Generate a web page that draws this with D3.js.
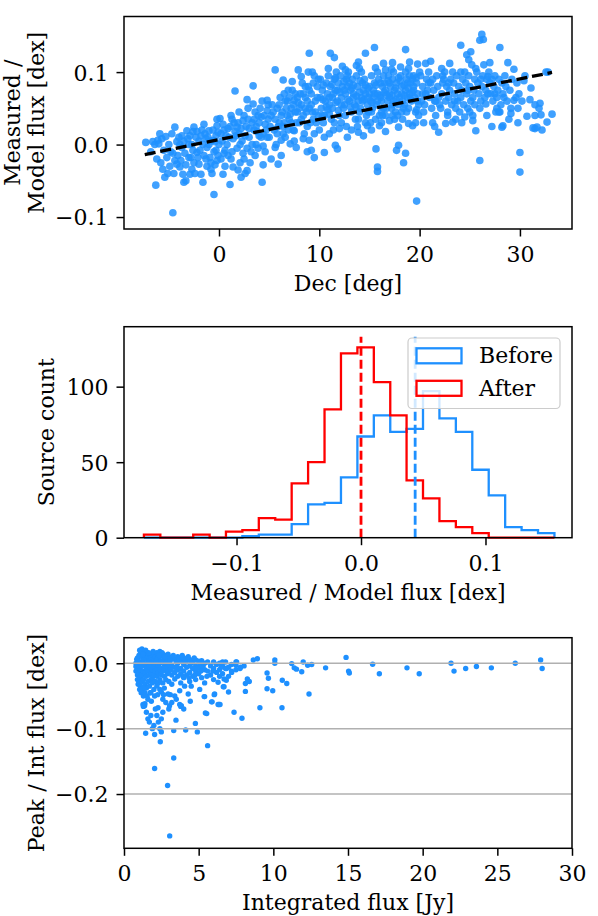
<!DOCTYPE html>
<html><head><meta charset="utf-8">
<script src="https://cdn.jsdelivr.net/npm/d3@7"></script>
<style>
body{margin:0;background:#fff}
svg{display:block}
text{font-family:"DejaVu Serif",serif;fill:#000}
</style>
</head><body>
<svg id="c" width="598" height="916"></svg>
<script>
// ---------------- DATA ----------------
// Panel 1: [Dec (deg), Measured/Model flux (dex)]
const decRatioPoints = [
[-7.3,0.003],[-6.3,-0.056],[-6.1,0.006],[-6.0,0.001],[-5.6,-0.034],[-5.4,-0.045],[-5.3,0.011],[-4.6,-0.094],[-4.4,0.024],[-4.4,-0.022],[-4.2,-0.027],[-4.0,0.010],[-3.9,-0.031],[-3.7,-0.004],[-3.6,-0.041],[-3.5,-0.052],[-3.2,0.019],[-3.0,-0.018],[-2.9,-0.041],[-2.7,-0.034],[-2.5,0.024],[-2.3,0.010],[-2.2,-0.011],[-2.0,-0.027],[-1.8,-0.041],[-1.6,-0.052],[-1.4,0.015],[-1.2,-0.004],[-1.0,0.019],[-0.9,-0.018],[-0.8,-0.034],[-0.6,0.006],[-0.5,-0.069],[-0.3,-0.008],[-0.2,-0.022],[-0.1,0.017],
[-5.0,0.0],[-4.8,-0.01],[-3.5,0.005],[-3.0,0.0],[-2.6,-0.008],[-2.0,0.005],[-1.5,-0.015],[-1.0,0.0],[-0.5,-0.01],[-0.3,0.012],[-1.8,0.012],[-2.8,-0.018],[-3.8,-0.022],[-4.6,-0.012],[-5.8,-0.025],[-6.4,0.0],[-1.2,-0.03],[-2.4,-0.04],[-0.7,-0.04],[-3.3,-0.05],[-4.9,-0.03],[-1.7,0.02],[-0.2,0.026],[-0.8,0.005],[-5.7,0.008],[-6.6,0.004],[-2.1,-0.018],[-1.3,0.008],[-3.4,-0.012],[-0.4,-0.028],[-4.2,0.004],[-2.9,0.012],
[-6.8,-0.01],[-6.2,-0.02],[-5.9,0.015],[-5.5,-0.008],[-5.2,-0.018],[-4.7,0.015],[-4.5,-0.04],[-4.1,-0.015],[-3.7,0.012],[-3.3,-0.028],[-3.1,0.008],[-2.7,0.0],[-2.5,-0.025],[-2.2,0.018],[-1.9,-0.008],[-1.6,0.0],[-1.3,-0.02],[-1.1,0.01],[-0.8,-0.025],[-0.6,0.02],[-0.4,0.004],[-0.1,-0.015],[-0.2,0.035],[-1.5,0.028],[-2.6,0.018],[-3.9,0.0],[-5.1,-0.04],
[0.1,0.036],[0.4,-0.041],[1.1,-0.055],[1.4,-0.031],[1.6,0.074],[1.2,0.040],[1.8,0.024],[2.0,0.045],[2.2,-0.045],[2.8,0.062],[2.8,-0.036],[3.4,0.081],[3.4,0.056],[4.3,-0.052],[4.4,-0.028],[4.8,0.061],[4.8,0.047],[5.2,-0.020],[5.9,-0.027],[5.6,0.103],
[0.5,0.02],[0.8,0.0],[1.0,0.01],[1.3,-0.01],[1.5,0.03],[1.8,-0.005],[2.0,0.015],[2.3,0.005],[2.5,-0.02],[2.7,0.025],[3.0,0.01],[3.2,-0.01],[3.5,0.02],[3.7,0.0],[4.0,0.03],[4.2,0.01],[4.5,0.04],[4.7,0.02],[0.2,-0.02],[0.6,-0.03],[1.1,0.025],[2.1,-0.025],[2.9,0.035],[3.3,0.03],[3.9,-0.005],[4.6,-0.01],[0.3,0.005],[1.7,0.012],[2.4,0.033],[3.6,0.045],[4.1,0.05],[0.9,-0.015],[1.9,-0.035],[2.6,-0.04],[4.4,0.015],[0.0,0.0],[0.7,0.012],[3.1,-0.025],[4.9,0.035],[1.4,0.008],[2.2,0.022],[3.8,0.018],
[0.2,0.015],[0.4,0.028],[0.6,-0.008],[0.9,0.022],[1.2,-0.02],[1.6,0.018],[1.9,0.03],[2.1,0.0],[2.4,-0.012],[2.6,0.012],[2.8,-0.005],[3.0,0.022],[3.3,0.0],[3.5,0.035],[3.7,0.025],[4.0,0.012],[4.2,0.038],[4.4,-0.002],[4.6,0.028],[4.8,0.01],[4.9,0.055],[3.9,0.04],[2.5,0.04],[1.3,0.035],[0.5,-0.012],[3.6,-0.015],[4.3,0.06],[2.9,0.05],
[6.4,0.089],[6.5,0.070],[7.3,0.087],[7.5,0.061],[7.9,0.103],[8.2,0.094],[8.6,0.080],[9.0,0.126],[9.3,0.100],[7.1,0.001],[7.7,-0.004],[8.4,0.008],[9.0,0.006],[9.2,-0.008],[9.5,-0.018],[7.5,0.019],[6.4,0.015],[6.2,0.006],[5.6,-0.004],
[5.2,0.04],[5.5,0.02],[5.8,0.05],[6.0,0.03],[6.3,0.045],[6.6,0.01],[6.8,0.06],[7.0,0.035],[7.2,0.05],[7.4,0.02],[7.6,0.07],[7.8,0.045],[8.0,0.03],[8.2,0.055],[8.4,0.04],[8.6,0.065],[8.8,0.025],[9.0,0.05],[9.2,0.07],[9.4,0.035],[9.6,0.06],[9.8,0.08],[5.3,0.055],[5.7,0.0],[6.1,0.065],[6.5,0.03],[6.9,0.02],[7.3,0.075],[7.7,0.03],[8.1,0.07],[8.5,0.015],[8.9,0.08],[9.3,0.045],[9.7,0.03],[9.9,0.09],[5.0,0.01],[6.7,0.05],[7.9,0.058],[8.7,0.045],[9.5,0.015],[5.9,0.025],[7.1,0.042],[8.3,0.085],[9.1,0.03],[6.2,-0.015],[7.5,0.005],[8.8,-0.01],
[5.1,0.025],[5.4,0.045],[5.6,0.035],[5.8,0.015],[6.0,0.055],[6.2,0.04],[6.4,0.025],[6.6,0.06],[6.8,0.04],[7.0,0.065],[7.2,0.03],[7.4,0.055],[7.6,0.045],[7.8,0.065],[8.0,0.05],[8.2,0.035],[8.4,0.07],[8.6,0.05],[8.8,0.06],[9.0,0.075],[9.2,0.055],[9.4,0.085],[9.6,0.045],[9.8,0.065],[9.9,0.04],[9.5,0.095],[8.9,0.1],[6.9,0.075],
[10.2,0.05],[10.3,0.075],[10.1,0.09],[10.4,0.03],[10.6,0.06],[10.7,0.085],[10.5,0.04],[10.8,0.07],[11.0,0.055],[11.1,0.08],[10.9,0.095],[11.2,0.035],[11.0,0.065],[11.4,0.07],[11.5,0.09],[11.3,0.05],[11.6,0.075],[11.4,0.02],[11.8,0.06],[11.9,0.085],[11.7,0.1],[12.0,0.04],[11.8,0.075],[12.2,0.065],[12.3,0.08],[12.1,0.095],[12.4,0.05],[12.2,0.03],[12.6,0.07],[12.7,0.09],[12.5,0.055],[12.8,0.08],[12.6,0.04],[13.0,0.06],[13.1,0.075],[12.9,0.1],[13.2,0.045],[13.0,0.085],[13.4,0.07],[13.5,0.055],[13.3,0.09],[13.6,0.035],[13.4,0.065],[13.8,0.08],[13.9,0.06],[13.7,0.095],[14.0,0.045],[13.8,0.025],[14.2,0.065],[14.3,0.085],[14.1,0.05],[14.4,0.075],[14.2,0.1],[14.6,0.07],[14.7,0.04],[14.5,0.09],[14.8,0.055],[14.6,0.03],[15.0,0.08],[15.1,0.06],[14.9,0.045],[15.2,0.095],[15.0,0.07],[15.4,0.065],[15.5,0.085],[15.3,0.05],[15.6,0.035],[15.4,0.075],[15.8,0.07],[15.9,0.09],[15.7,0.055],[16.0,0.04],[15.8,0.1],[16.2,0.06],[16.3,0.08],[16.1,0.065],[16.4,0.095],[16.2,0.03],[16.6,0.075],[16.7,0.05],[16.5,0.085],[16.8,0.06],[16.6,0.04],[17.0,0.065],[17.1,0.08],[16.9,0.095],[17.2,0.05],[17.0,0.07],[17.4,0.06],[17.5,0.075],[17.3,0.09],[17.6,0.045],[17.4,0.1],[17.8,0.07],[17.9,0.055],[17.7,0.085],[18.0,0.065],[17.8,0.04],[18.2,0.08],[18.3,0.06],[18.1,0.095],[18.4,0.05],[18.2,0.07],[18.6,0.075],[18.7,0.09],[18.5,0.055],[18.8,0.065],[18.6,0.1],[19.0,0.07],[19.1,0.085],[18.9,0.05],[19.2,0.06],[19.0,0.095],[19.4,0.08],[19.5,0.065],[19.3,0.09],[19.6,0.045],[19.4,0.075],[19.8,0.07],[19.9,0.055],[19.7,0.085],[20.0,0.1],[19.8,0.06],
[10.35,0.062],[10.85,0.048],[11.25,0.083],[11.65,0.058],[12.05,0.072],[12.45,0.087],[12.85,0.062],[13.25,0.078],[13.65,0.052],[14.05,0.088],[14.45,0.062],[14.85,0.078],[15.25,0.058],[15.65,0.082],[16.05,0.068],[16.45,0.072],[16.85,0.088],[17.25,0.068],[17.65,0.062],[18.05,0.088],[18.45,0.082],[18.85,0.078],[19.25,0.072],[19.65,0.092],
[10.1,0.065],[10.4,0.082],[10.7,0.052],[11.0,0.042],[11.3,0.065],[11.6,0.092],[11.9,0.047],[12.2,0.055],[12.5,0.075],[12.8,0.095],[13.1,0.052],[13.4,0.082],[13.7,0.067],[14.0,0.072],[14.3,0.06],[14.6,0.082],[14.9,0.065],[15.2,0.045],[15.5,0.07],[15.8,0.06],[16.1,0.085],[16.4,0.05],[16.7,0.068],[17.0,0.085],[17.3,0.055],[17.6,0.078],[17.9,0.092],[18.2,0.045],[18.5,0.068],[18.8,0.085],[19.1,0.062],[19.4,0.095],[19.7,0.048],[10.3,0.04],[11.5,0.03],[12.7,0.025],[13.9,0.035],[15.1,0.03],[16.3,0.04],[17.5,0.035],[18.7,0.045],[19.9,0.04],[10.9,0.105],[12.3,0.108],[14.0,0.105],[15.6,0.106],[17.2,0.104],[18.9,0.105],
[10.5,0.010],[10.5,-0.011],[11.6,-0.001],[11.8,-0.006],[12.8,0.010],[13.9,0.017],[14.8,0.026],[16.0,0.026],[17.0,0.033],[18.9,0.029],[19.3,0.026],[17.9,0.024],[17.3,0.040],[16.2,0.045],[10.0,0.02],[11.0,0.015],[12.0,0.022],[13.2,0.02],[14.4,0.012],[15.2,0.02],[16.6,0.018],[18.3,0.035],[19.6,0.03],
[19.8,0.111],[19.0,0.114],[13.9,0.114],[13.7,0.109],[12.6,0.103],[16.4,0.112],[17.3,0.113],[16.6,0.103],[18.1,0.107],[11.1,0.126],[11.5,0.120],[14.6,0.126],[15.5,0.134],[18.6,0.131],
[15.65,-0.006],[15.8,-0.031],[15.8,-0.037],[17.9,-0.001],[17.7,-0.008],[18.6,-0.012],[18.4,-0.025],[19.7,-0.078],
[24.1,0.137],[25.1,0.128],[26.2,0.152],[26.35,0.145],[26.0,0.144],[28.0,0.134],[28.8,0.113],[29.4,0.104],[31.1,0.078],[29.8,0.030],[30.0,-0.011],[30.0,-0.038],[26.0,-0.022],[25.6,0.019],[30.7,0.039],[31.3,0.023],[31.7,0.024],[32.2,0.020],[31.9,0.050],[32.1,0.041],[32.7,0.031],[33.2,0.042],[32.6,0.100],[27.2,0.025],[28.2,0.024],[28.3,0.026],[29.4,0.061],[29.1,0.043],[21.9,0.017],[22.6,0.029],[23.3,0.031],[21.3,0.030],[24.5,0.038],[25.3,0.040],[25.3,0.033],[26.6,0.056],[27.7,0.050],[27.5,0.070],[26.8,0.094],[27.0,0.113],[24.7,0.124],[24.9,0.117],[23.0,0.112],[22.2,0.105],[21.1,0.115],[20.6,0.112],[32.0,0.057],[31.5,0.022],[31.5,0.040],
[20.2,0.06],[20.3,0.08],[20.1,0.095],[20.4,0.045],[20.6,0.07],[20.7,0.09],[20.5,0.055],[20.8,0.075],[21.0,0.065],[21.1,0.085],[20.9,0.1],[21.2,0.05],[21.4,0.075],[21.5,0.06],[21.3,0.09],[21.6,0.04],[21.8,0.08],[21.9,0.065],[21.7,0.095],[22.0,0.055],[22.2,0.07],[22.3,0.085],[22.1,0.05],[22.4,0.09],[22.6,0.06],[22.7,0.08],[22.5,0.1],[22.8,0.045],[23.0,0.075],[23.1,0.09],[22.9,0.065],[23.2,0.055],[23.4,0.085],[23.5,0.07],[23.3,0.1],[23.6,0.05],[23.8,0.06],[23.9,0.08],[23.7,0.095],[24.0,0.045],[24.2,0.075],[24.3,0.09],[24.1,0.065],[24.4,0.055],[24.6,0.085],[24.7,0.07],[24.5,0.1],[24.8,0.05],[25.0,0.08],[25.1,0.06],[24.9,0.095],[25.2,0.11],[25.4,0.075],[25.5,0.09],[25.3,0.065],[25.6,0.105],[25.8,0.085],[25.9,0.07],[25.7,0.1],[26.0,0.05],[26.2,0.08],[26.3,0.095],[26.1,0.06],[26.4,0.11],[26.6,0.075],[26.7,0.09],[26.5,0.065],[27.0,0.085],[27.1,0.07],[26.9,0.1],[27.4,0.08],[27.5,0.095],[27.3,0.06],[27.8,0.075],[27.9,0.09],[27.7,0.065],[28.0,0.045],[28.2,0.085],[28.3,0.07],[28.1,0.055],[28.6,0.08],[28.7,0.06],[28.5,0.095],[29.0,0.075],[29.1,0.05],[29.6,0.065],[29.7,0.085],[30.2,0.06],[31.5,0.055],[32.8,0.1],
[20.4,0.03],[21.5,0.025],[22.8,0.04],[23.6,0.035],[24.2,0.03],[25.0,0.045],[26.7,0.04],[27.9,0.045],[28.9,0.035],[29.9,0.07],[30.4,0.088],[31.0,0.062],
[20.3,0.07],[20.9,0.085],[21.6,0.06],[22.3,0.095],[22.9,0.085],[23.5,0.06],[24.1,0.1],[24.8,0.075],[25.5,0.055],[26.1,0.09],[26.8,0.07],[27.2,0.09],[27.6,0.045],[28.4,0.065],[29.2,0.09],[29.8,0.05],[30.5,0.095]
];
const fitSlope = 0.00279, fitIntercept = 0.0069, fitDecRange = [-7.4, 33.2];

// Panel 2: histogram (shared bin edges, dex)
const binEdges = [-0.1744,-0.1612,-0.1480,-0.1348,-0.1216,-0.1085,-0.0953,-0.0821,-0.0689,-0.0557,-0.0425,-0.0293,-0.0161,-0.0029,0.0103,0.0235,0.0366,0.0498,0.0630,0.0762,0.0894,0.1026,0.1158,0.1290,0.1422,0.1554];
const beforeCounts = [0,0,0,0,0,0,1,2,2,9,22,23,40,67,81,70,72,97,79,70,45,28,7,5,3];
const afterCounts  = [2,0,0,2,0,4,5,13,12,36,50,85,122,126,103,81,38,26,11,7,3,0,0,0,0];
const beforeMean = 0.0435, afterMean = 0.0, meanLineTop = 133;
const legendLabels = ["Before","After"];

// Panel 3: [Integrated flux (Jy), Peak/Int flux (dex)]
const fluxPeakPoints = [
[2.43,-0.120],[5.60,-0.126],[3.33,-0.145],[2.05,-0.161],[2.92,-0.187],[3.06,-0.264],
[1.45,-0.107],[2.05,-0.109],[2.5,-0.105],[3.33,-0.103],[4.13,-0.102],[4.91,-0.105],[4.78,-0.092],[3.48,-0.087],[5.54,-0.077],
[1.27,-0.063],[1.38,-0.065],[1.5,-0.075],[2.28,-0.068],[2.6,-0.055],[3.05,-0.065],[3.73,-0.063],[3.84,-0.065],[3.4,-0.05],[4.3,-0.047],[4.44,-0.058],[5.4,-0.051],[6.07,-0.047],[5.9,-0.059],[6.36,-0.063],[6.7,-0.036],[6.85,-0.026],[6.3,-0.029],[5.07,-0.040],[4.5,-0.035],[4.06,-0.035],[3.73,-0.042],[2.95,-0.047],[2.5,-0.044],[2.05,-0.05],[1.83,-0.058],
[1.4,-0.062],[1.6,-0.085],[1.7,-0.09],[1.8,-0.08],[2.0,-0.095],[2.1,-0.07],[2.2,-0.08],[2.3,-0.09],[2.5,-0.085],[2.6,-0.075],[1.9,-0.1],[2.4,-0.1],[3.0,-0.07],[3.2,-0.06],[3.5,-0.055],[3.8,-0.066],[4.0,-0.07],[1.3,-0.066],[2.8,-0.06],[3.1,-0.048],[5.45,-0.076],[5.37,-0.051],
[0.8,0.0],[0.8,-0.005],[0.8,-0.012],[0.9,0.008],[0.9,-0.002],[0.9,-0.018],[0.9,-0.025],[1.0,0.012],[1.0,0.003],[1.0,-0.008],[1.0,-0.015],[1.0,-0.03],[1.1,0.015],[1.1,0.0],[1.1,-0.01],[1.1,-0.022],[1.1,-0.035],[1.2,0.022],[1.2,0.01],[1.2,-0.004],[1.2,-0.018],[1.2,-0.028],[1.2,-0.042],[1.3,0.018],[1.3,0.005],[1.3,-0.012],[1.3,-0.025],[1.3,-0.05],[1.4,0.012],[1.4,-0.002],[1.4,-0.015],[1.4,-0.032],[1.4,-0.045],[1.5,0.016],[1.5,0.006],[1.5,-0.008],[1.5,-0.02],[1.5,-0.038],[1.6,0.01],[1.6,0.0],[1.6,-0.012],[1.6,-0.028],[1.6,-0.055],[1.7,0.014],[1.7,0.004],[1.7,-0.006],[1.7,-0.018],[1.7,-0.035],[1.8,0.008],[1.8,-0.003],[1.8,-0.015],[1.8,-0.025],[1.8,-0.045],[1.9,0.012],[1.9,0.002],[1.9,-0.01],[1.9,-0.022],[1.9,-0.03],[2.0,0.015],[2.0,0.005],[2.0,-0.005],[2.0,-0.018],[2.0,-0.04],[2.1,0.01],[2.1,-0.002],[2.1,-0.012],[2.1,-0.028],[2.2,0.016],[2.2,0.006],[2.2,-0.008],[2.2,-0.02],[2.2,-0.035],[2.3,0.008],[2.3,-0.004],[2.3,-0.015],[2.3,-0.03],[2.4,0.018],[2.4,0.01],[2.4,0.0],[2.4,-0.01],[2.4,-0.025],[2.4,-0.04],[2.5,0.012],[2.5,0.003],[2.5,-0.008],[2.5,-0.018],[2.6,0.014],[2.6,0.002],[2.6,-0.012],[2.6,-0.03],[2.7,0.008],[2.7,-0.004],[2.7,-0.02],[2.7,-0.038],[2.8,0.012],[2.8,0.0],[2.8,-0.01],[2.8,-0.025],[2.9,0.006],[2.9,-0.006],[2.9,-0.016],[3.0,0.01],[3.0,-0.002],[3.0,-0.012],[3.0,-0.028],[3.2,0.008],[3.2,-0.004],[3.2,-0.018],[3.2,-0.032],[3.4,0.006],[3.4,-0.006],[3.4,-0.014],[3.4,-0.024],[3.6,0.01],[3.6,0.0],[3.6,-0.01],[3.6,-0.02],[3.8,0.004],[3.8,-0.008],[3.8,-0.016],[3.8,-0.03],[4.0,0.008],[4.0,-0.002],[4.0,-0.012],[4.0,-0.022],[4.2,0.004],[4.2,-0.006],[4.2,-0.018],[4.4,0.006],[4.4,-0.004],[4.4,-0.014],[4.4,-0.028],[4.6,0.002],[4.6,-0.008],[4.6,-0.02],[4.8,0.005],[4.8,-0.004],[4.8,-0.012],[4.8,-0.025],[5.0,0.003],[5.0,-0.006],[5.0,-0.016],[5.2,0.004],[5.2,-0.008],[5.2,-0.022],[5.4,0.0],[5.4,-0.01],[5.4,-0.03],[5.6,0.002],[5.6,-0.012],[5.8,-0.004],[5.8,-0.018],[6.0,0.002],[6.0,-0.008],[6.0,-0.025],[6.2,-0.002],[6.2,-0.014],[6.4,0.0],[6.4,-0.01],[6.4,-0.02],[6.6,-0.004],[6.6,-0.016],[6.8,0.002],[6.8,-0.008],[7.0,-0.006],[7.0,-0.02],[7.2,-0.002],[7.2,-0.012],[7.5,0.002],[7.5,-0.01],[7.8,-0.006],
[2.55,0.016],[2.75,0.01],[2.95,0.014],[3.1,0.004],[3.3,0.012],[3.5,0.002],[3.7,0.008],[3.9,0.012],[4.1,0.002],[4.3,0.01],[4.5,0.0],[4.7,0.008],[4.9,-0.008],[5.1,0.0],[5.3,-0.004],[3.15,-0.01],[3.55,-0.006],[3.95,-0.02],[4.35,-0.022],[4.75,-0.018],[5.15,-0.012],[5.55,-0.02],[5.95,-0.012],[6.5,-0.006],[2.35,0.012],[1.95,0.018],[1.45,0.02],[1.05,0.02],[0.85,0.006],[1.25,0.014],[1.65,0.016],[2.15,0.003],[1.15,-0.045],[1.35,-0.038],[1.55,-0.05],[1.75,-0.045],[2.25,-0.048],[2.65,-0.048],[1.05,-0.04],[0.95,-0.032],
[6.6,0.002],[7.54,0.002],[8.04,-0.004],[8.66,0.005],[8.93,0.007],[10.1,0.005],[10.1,0.0],[11.23,-0.0005],[11.4,-0.007],[11.55,-0.009],[12.0,0.002],[11.9,-0.013],[12.3,-0.003],[12.57,-0.002],[13.5,-0.007],[14.87,0.009],[15.04,-0.012],[15.09,-0.015],[16.65,-0.0015],[17.1,-0.016],[18.95,-0.007],[19.77,-0.016],[21.9,0.0],[22.1,-0.012],[22.88,-0.008],[23.6,-0.005],[24.6,-0.007],[26.2,0.0],[27.9,0.005],[28.0,-0.008],
[9.58,-0.015],[9.67,-0.023],[9.58,-0.039],[9.96,-0.042],[10.6,-0.026],[10.9,-0.031],[12.39,-0.047],[10.58,-0.068],[9.1,-0.068],[8.26,-0.024],[8.39,-0.028],[8.13,-0.031],[8.13,-0.043],[7.37,-0.075],[7.9,-0.084],[6.65,-0.036],[7.0,-0.044],[6.43,-0.063],[7.5,-0.003],[7.77,-0.008],[7.21,-0.014],[6.87,-0.008],[6.7,-0.024],[6.3,-0.063],[5.86,-0.059],[6.04,-0.048]
];

const topXTicks = [0,10,20,30], topYTicks = [-0.1,0.0,0.1];
const midXTicks = [-0.1,0.0,0.1], midYTicks = [0,50,100];
const botXTicks = [0,5,10,15,20,25,30], botYTicks = [-0.2,-0.1,0.0];

// ---------------- LAYOUT ----------------
const FS = 22;
const L = 124, R = 572;
const P1 = {t:16.5, b:229}, P2 = {t:326.7, b:537.7}, P3 = {t:637.7, b:848.3};
const svg = d3.select('#c');
const BLUE = '#1e90ff', RED = '#ff0000';

function axes(g, x, y, xt, yt, xfmt, yfmt, P) {
  const ax = g.append('g').attr('transform',`translate(0,${P.b})`)
    .call(d3.axisBottom(x).tickValues(xt).tickFormat(xfmt).tickSize(7.5).tickPadding(9.8));
  const ay = g.append('g').attr('transform',`translate(${L},0)`)
    .call(d3.axisLeft(y).tickValues(yt).tickFormat(yfmt).tickSize(7.5).tickPadding(8));
  [ax,ay].forEach(a=>{
    a.select('.domain').remove();
    a.selectAll('line').attr('stroke','#000').attr('stroke-width',1.5);
    a.selectAll('text').attr('font-size',FS).attr('font-family','DejaVu Serif').attr('fill','#000');
  });
  ay.selectAll('text').attr('dy','0.36em');
  g.append('rect').attr('x',L).attr('y',P.t).attr('width',R-L).attr('height',P.b-P.t)
    .attr('fill','none').attr('stroke','#000').attr('stroke-width',1.5);
}
function xlabel(txt, P){
  svg.append('text').attr('x',(L+R)/2).attr('y',P.b+62).attr('text-anchor','middle').attr('font-size',FS).text(txt);
}
function ylabel(lines, P, xs){
  lines.forEach((t,i)=>{
    svg.append('text').attr('transform',`translate(${xs[i]},${(P.t+P.b)/2}) rotate(-90)`)
      .attr('text-anchor','middle').attr('font-size',FS).text(t);
  });
}

// ---------- Panel 1 ----------
{
  const x = d3.scaleLinear().domain([-9.47,35.19]).range([L,R]);
  const y = d3.scaleLinear().domain([-0.1165,0.1767]).range([P1.b,P1.t]);
  const g = svg.append('g');
  svg.append('clipPath').attr('id','c1').append('rect').attr('x',L).attr('y',P1.t).attr('width',R-L).attr('height',P1.b-P1.t);
  const pg = g.append('g').attr('clip-path','url(#c1)');
  pg.selectAll('circle').data(decRatioPoints).join('circle')
    .attr('cx',d=>x(d[0])).attr('cy',d=>y(d[1])).attr('r',3.8)
    .attr('fill',BLUE).attr('fill-opacity',0.85);
  pg.append('path').datum(fitDecRange)
    .attr('d',d3.line().x(d=>x(d)).y(d=>y(fitIntercept+fitSlope*d)))
    .attr('stroke','#000').attr('stroke-width',3.3).attr('stroke-dasharray','11,4.8').attr('fill','none');
  axes(g,x,y,topXTicks,topYTicks,d3.format('d'),d3.format('.1f'),P1);
  xlabel('Dec [deg]',P1);
  ylabel(['Measured /','Model flux [dex]'],P1,[20,44]);
}

// ---------- Panel 2 ----------
{
  const x = d3.scaleLinear().domain([-0.1904,0.1695]).range([L,R]);
  const y = d3.scaleLinear().domain([0,139.7]).range([P2.b,P2.t]);
  const g = svg.append('g');
  function stepPath(counts){
    const p = d3.path();
    p.moveTo(x(binEdges[0]), y(0));
    counts.forEach((c,i)=>{ p.lineTo(x(binEdges[i]), y(c)); p.lineTo(x(binEdges[i+1]), y(c)); });
    p.lineTo(x(binEdges[counts.length]), y(0));
    return p.toString();
  }
  g.append('path').attr('d',stepPath(beforeCounts)).attr('fill','none').attr('stroke',BLUE).attr('stroke-width',2.3);
  g.append('path').attr('d',stepPath(afterCounts)).attr('fill','none').attr('stroke',RED).attr('stroke-width',2.3);
  g.append('line').attr('x1',x(afterMean)).attr('x2',x(afterMean)).attr('y1',y(0)).attr('y2',y(meanLineTop))
    .attr('stroke',RED).attr('stroke-width',2.8).attr('stroke-dasharray','9,4');
  g.append('line').attr('x1',x(beforeMean)).attr('x2',x(beforeMean)).attr('y1',y(0)).attr('y2',y(meanLineTop))
    .attr('stroke',BLUE).attr('stroke-width',2.8).attr('stroke-dasharray','9,4');
  axes(g,x,y,midXTicks,midYTicks,d3.format('.1f'),d3.format('d'),P2);
  const lg = svg.append('g');
  lg.append('rect').attr('x',408).attr('y',338).attr('width',152).attr('height',70.5).attr('rx',4)
    .attr('fill','#fff').attr('fill-opacity',0.8).attr('stroke','#cccccc').attr('stroke-width',1.2);
  [[BLUE,348.3],[RED,380.8]].forEach((d,i)=>{
    lg.append('rect').attr('x',416.5).attr('y',d[1]).attr('width',45).attr('height',15)
      .attr('fill','none').attr('stroke',d[0]).attr('stroke-width',2.3);
    lg.append('text').attr('x',479).attr('y',d[1]+15).attr('font-size',FS).text(legendLabels[i]);
  });
  xlabel('Measured / Model flux [dex]',P2);
  ylabel(['Source count'],P2,[53.5]);
}

// ---------- Panel 3 ----------
{
  const x = d3.scaleLinear().domain([0,30]).range([L,R]);
  const y = d3.scaleLinear().domain([-0.283,0.0391]).range([P3.b,P3.t]);
  const g = svg.append('g');
  g.selectAll('circle').data(fluxPeakPoints).join('circle')
    .attr('cx',d=>x(d[0])).attr('cy',d=>y(d[1])).attr('r',2.7).attr('fill',BLUE);
  g.selectAll('.grid').data(botYTicks).join('line').attr('class','grid')
    .attr('x1',L).attr('x2',R).attr('y1',d=>y(d)).attr('y2',d=>y(d))
    .attr('stroke','#b0b0b0').attr('stroke-width',1.5);
  axes(g,x,y,botXTicks,botYTicks,d3.format('d'),d3.format('.1f'),P3);
  xlabel('Integrated flux [Jy]',P3);
  ylabel(['Peak / Int flux [dex]'],P3,[43.5]);
}
</script>
</body></html>
